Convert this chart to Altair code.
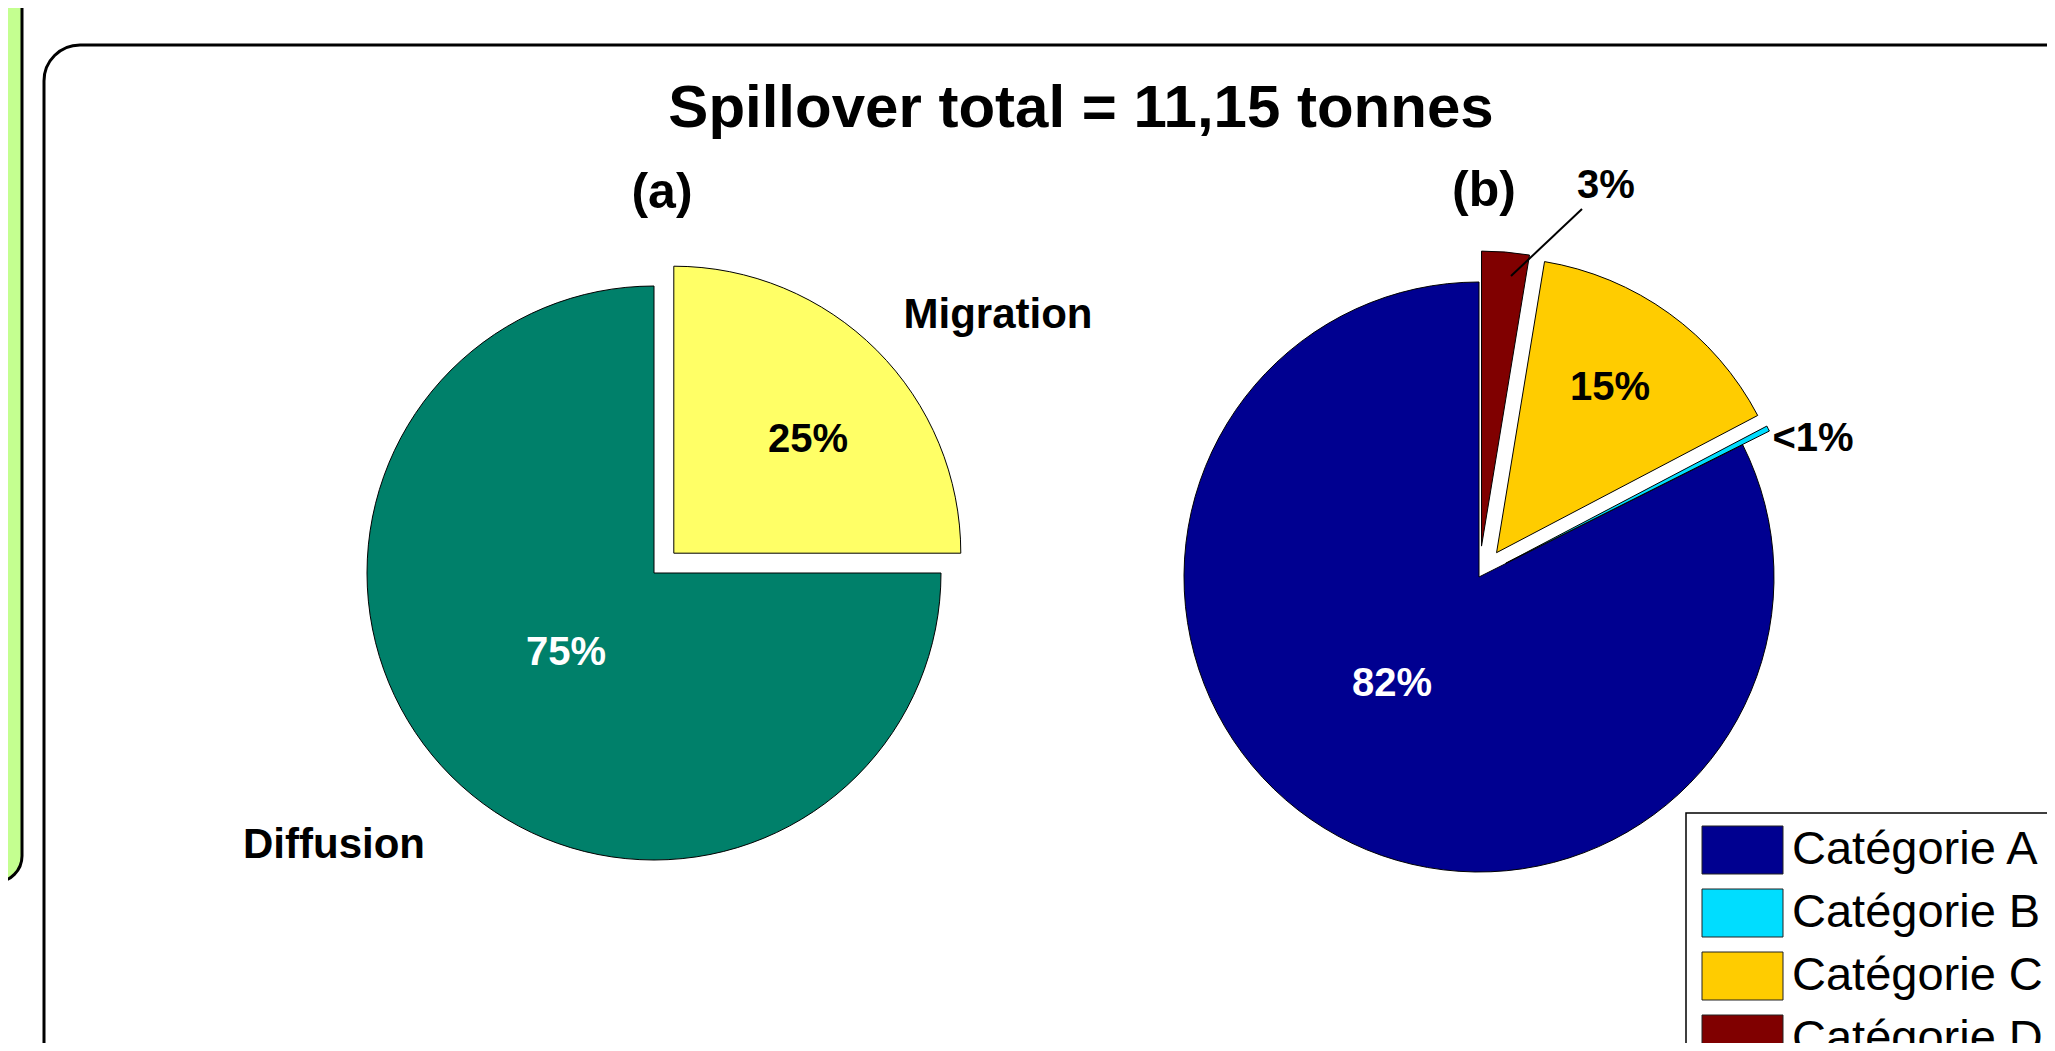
import math
import altair as alt
import pandas as pd

# ---------------- data ----------------
TITLE = "Spillover total = 11,15 tonnes"
PANEL_TITLES = ["(a)", "(b)"]

A_NAMES = ["Diffusion", "Migration"]
A_VALUES = [75.0, 25.0]
A_PCT = ["75%", "25%"]
A_COLORS = ["#00806A", "#FFFF66"]

B_NAMES = ["Catégorie A", "Catégorie B", "Catégorie C", "Catégorie D"]
B_VALUES = [82.4, 0.3, 14.7, 2.6]
B_PCT = ["82%", "<1%", "15%", "3%"]
B_COLORS = ["#000090", "#00DDFF", "#FFCC00", "#800000"]

# ---------------- layout (page pixels) ----------------
PAGE_W, PAGE_H, MARGIN = 2055, 1051, 8
W, H = PAGE_W - 2 * MARGIN, PAGE_H - 2 * MARGIN
FONT = "Liberation Sans"

PIE_A = dict(cx=654, cy=573, r=287, explode=[0, 28])
PIE_B = dict(cx=1479, cy=577, r=295, explode=[0, 30, 30, 31])

xs = alt.Scale(domain=[MARGIN, PAGE_W - MARGIN], range=[0, W], zero=False, nice=False)
ys = alt.Scale(domain=[MARGIN, PAGE_H - MARGIN], range=[0, H], zero=False, nice=False)


def slices(pie_id, names, values, pie):
    total = sum(values)
    rows, cum = [], 0.0
    for n, v, d in zip(names, values, pie["explode"]):
        f0 = cum / total
        cum += v
        f1 = cum / total
        # counter-clockwise from 12 o'clock
        t0 = 2 * math.pi * (1 - f1)
        t1 = 2 * math.pi * (1 - f0)
        mid = (t0 + t1) / 2
        rows.append(dict(pie=pie_id, key=n, value=v, t0=t0, t1=t1, r=pie["r"],
                         cx=pie["cx"] + d * math.sin(mid),
                         cy=pie["cy"] - d * math.cos(mid)))
    return rows


slice_df = pd.DataFrame(slices("a", A_NAMES, A_VALUES, PIE_A) + slices("b", B_NAMES, B_VALUES, PIE_B))
color_scale = alt.Scale(domain=A_NAMES + B_NAMES, range=A_COLORS + B_COLORS)

X = lambda f: alt.X(f, scale=xs, axis=None)
Y = lambda f: alt.Y(f, scale=ys, axis=None)

# background shapes
shapes_df = pd.DataFrame([
    dict(name="panel", x0=-40, x1=22, y0=-40, y1=882),
    dict(name="frame", x0=44, x1=2120, y0=45, y1=1120),
])
panel = alt.Chart(shapes_df[shapes_df.name == "panel"]).mark_rect(
    cornerRadius=26, fill="#C4FF90", stroke="black", strokeWidth=3, clip=True
).encode(x=X("x0:Q"), x2="x1:Q", y=Y("y0:Q"), y2="y1:Q")
frame = alt.Chart(shapes_df[shapes_df.name == "frame"]).mark_rect(
    cornerRadius=36, fill="white", stroke="black", strokeWidth=3, clip=True
).encode(x=X("x0:Q"), x2="x1:Q", y=Y("y0:Q"), y2="y1:Q")

arcs = alt.Chart(slice_df).mark_arc(stroke="black", strokeWidth=1).encode(
    x=X("cx:Q"), y=Y("cy:Q"),
    theta=alt.Theta("t0:Q", scale=None, stack=False), theta2="t1:Q",
    radius=alt.Radius("r:Q", scale=None),
    color=alt.Color("key:N", scale=color_scale, legend=None),
)

# text annotations (text from data arrays, positions from layout)
label_rows = [
    (TITLE, 1081, 127, 60, "black"),
    (PANEL_TITLES[0], 662, 208, 50, "black"),
    (PANEL_TITLES[1], 1484, 206, 50, "black"),
    (A_NAMES[1], 998, 328, 42, "black"),
    (A_NAMES[0], 334, 858, 42, "black"),
    (A_PCT[1], 808, 452, 40, "black"),
    (A_PCT[0], 566, 665, 40, "white"),
    (B_PCT[0], 1392, 696, 40, "white"),
    (B_PCT[2], 1610, 400, 40, "black"),
    (B_PCT[3], 1606, 198, 40, "black"),
    (B_PCT[1], 1813, 451, 40, "black"),
]
label_df = pd.DataFrame(label_rows, columns=["text", "x", "y", "size", "color"])
labels = alt.Chart(label_df).mark_text(
    font=FONT, fontWeight="bold", align="center", baseline="alphabetic"
).encode(
    x=X("x:Q"), y=Y("y:Q"), text="text:N",
    size=alt.Size("size:Q", scale=None), color=alt.Color("color:N", scale=None),
)

leader_df = pd.DataFrame([dict(x0=1582, y0=209, x1=1511, y1=276)])
leader = alt.Chart(leader_df).mark_rule(color="black", strokeWidth=2).encode(
    x=X("x0:Q"), y=Y("y0:Q"), x2="x1:Q", y2="y1:Q"
)

# legend
LEG = dict(x0=1686, x1=2054, y0=813, y1=1120, sx0=1702, sx1=1783, row0=826, sh=48, step=63, tx=1792)
legbox = alt.Chart(pd.DataFrame([LEG])).mark_rect(
    fill="white", stroke="black", strokeWidth=1.5, clip=True
).encode(x=X("x0:Q"), x2="x1:Q", y=Y("y0:Q"), y2="y1:Q")
leg_df = pd.DataFrame(dict(key=B_NAMES))
leg_df["y0"] = [LEG["row0"] + i * LEG["step"] for i in range(len(B_NAMES))]
leg_df["y1"] = leg_df["y0"] + LEG["sh"]
leg_df["ym"] = leg_df["y0"] + LEG["sh"] / 2
leg_df["sx0"] = LEG["sx0"]
leg_df["sx1"] = LEG["sx1"]
leg_df["tx"] = LEG["tx"]
swatches = alt.Chart(leg_df).mark_rect(stroke="#222222", strokeWidth=1, clip=True).encode(
    x=X("sx0:Q"), x2="sx1:Q", y=Y("y0:Q"), y2="y1:Q",
    color=alt.Color("key:N", scale=color_scale, legend=None),
)
leg_text = alt.Chart(leg_df).mark_text(
    font=FONT, fontSize=47, align="left", baseline="middle", color="black", clip=True
).encode(x=X("tx:Q"), y=Y("ym:Q"), text="key:N")

chart = alt.layer(panel, frame, arcs, leader, labels, legbox, swatches, leg_text).properties(
    width=W, height=H, padding=0, autosize=alt.AutoSizeParams(type="none"), background="white"
).configure_view(stroke="transparent")

chart.save("out.html", embed_options={"renderer": "svg", "actions": False})
